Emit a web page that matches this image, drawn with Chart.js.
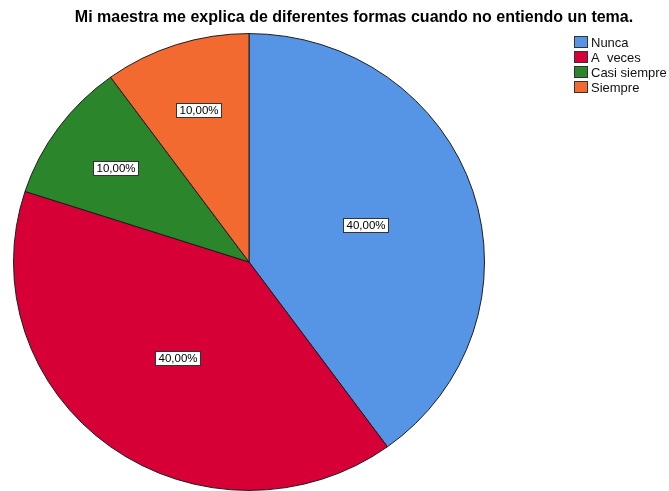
<!DOCTYPE html>
<html>
<head>
<meta charset="utf-8">
<script src="https://cdn.jsdelivr.net/npm/chart.js@4/dist/chart.umd.min.js"></script>
<style>
html,body{margin:0;padding:0;background:#fff;overflow:hidden;}
canvas{display:block;}
</style>
</head>
<body>
<canvas id="c" width="669" height="540"></canvas>
<script>
const titleText = "Mi maestra me explica de diferentes formas cuando no entiendo un tema.";
const categories = ["Nunca", "A  veces", "Casi siempre", "Siempre"];
const percentages = [40, 40, 10, 10];
const colors = ["#5694e6", "#d60036", "#2b862b", "#f26a30"];

const SY = 0.97; // vertical squash of the pie (ellipse as in reference)

const squashPlugin = {
  id: 'squash',
  beforeDatasetsDraw(chart) {
    const a = chart.getDatasetMeta(0).data[0];
    const ctx = chart.ctx;
    ctx.save();
    ctx.translate(a.x, a.y);
    ctx.scale(1, SY);
    ctx.translate(-a.x, -a.y);
  },
  afterDatasetsDraw(chart) {
    chart.ctx.restore();
  }
};

const labelPlugin = {
  id: 'labels',
  afterDraw(chart) {
    const ctx = chart.ctx;
    const meta = chart.getDatasetMeta(0);
    ctx.save();
    ctx.font = '11.5px "Liberation Sans", Arial, sans-serif';
    ctx.textBaseline = 'middle';
    ctx.textAlign = 'center';
    meta.data.forEach((arc, i) => {
      const p = arc.getProps(['x','y','startAngle','endAngle','outerRadius'], true);
      const mid = (p.startAngle + p.endAngle) / 2;
      const half = (p.endAngle - p.startAngle) / 2;
      const c = 2 * Math.sin(half) / (3 * half);      // centroid fraction
      const f = 0.52 + 1.19 * (c - 0.505);           // SPSS-like placement
      const d = f * p.outerRadius;
      const lx = p.x + Math.cos(mid) * d;
      const ly = p.y + Math.sin(mid) * d * SY;
      const txt = percentages[i].toFixed(2).replace('.', ',') + '%';
      const w = Math.round(ctx.measureText(txt).width) + 6;
      const h = 14;
      const bx = Math.round(lx - w / 2) + 0.5, by = Math.round(ly - h / 2) + 0.5;
      ctx.fillStyle = '#ffffff';
      ctx.fillRect(bx, by, w, h);
      ctx.strokeStyle = '#333333';
      ctx.lineWidth = 1;
      ctx.strokeRect(bx, by, w, h);
      ctx.fillStyle = '#000000';
      ctx.fillText(txt, bx + w / 2, by + h / 2 + 0.5);
    });
    // title
    ctx.font = 'bold 16px "Liberation Sans", Arial, sans-serif';
    ctx.textAlign = 'center';
    ctx.fillStyle = '#000000';
    ctx.fillText(titleText, 354, 18);
    // legend
    ctx.font = '13px "Liberation Sans", Arial, sans-serif';
    ctx.textAlign = 'left';
    categories.forEach((cat, i) => {
      const y = 42 + i * 15;
      ctx.fillStyle = colors[i];
      ctx.fillRect(574.5, y - 5.5, 13, 11);
      ctx.strokeStyle = '#333333';
      ctx.lineWidth = 1;
      ctx.strokeRect(574.5, y - 5.5, 13, 11);
      ctx.fillStyle = '#111111';
      ctx.fillText(cat, 591, y + 1);
    });
    ctx.restore();
  }
};

new Chart(document.getElementById('c'), {
  type: 'pie',
  data: {
    labels: categories,
    datasets: [{
      data: percentages,
      backgroundColor: colors,
      borderColor: '#1a1a1a',
      borderWidth: 1
    }]
  },
  options: {
    responsive: false,
    animation: false,
    layout: { padding: { left: 13, right: 184, top: 26, bottom: 42 } },
    plugins: {
      legend: { display: false },
      title: { display: false },
      tooltip: { enabled: false }
    }
  },
  plugins: [squashPlugin, labelPlugin]
});
</script>
</body>
</html>
